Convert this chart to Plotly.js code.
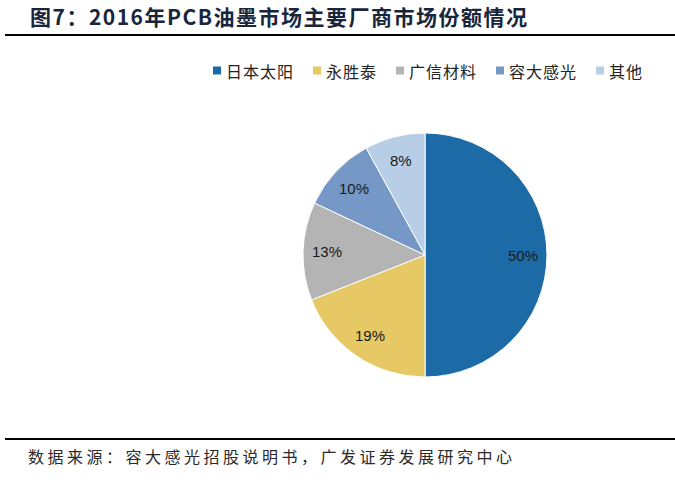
<!DOCTYPE html>
<html>
<head>
<meta charset="utf-8">
<script src="https://cdn.plot.ly/plotly-3.0.1.min.js"></script>
<style>
html,body{margin:0;padding:0;background:#fff;}
#chart{width:675px;height:487px;}
</style>
</head>
<body>
<div id="chart"></div>
<script>
const labels = ['日本太阳', '永胜泰', '广信材料', '容大感光', '其他'];
const shares = [50, 19, 13, 10, 8];
const colors = ['#1D6BA6', '#E6C864', '#B4B4B4', '#7598C7', '#B8CDE6'];
const titleText = '图7：2016年PCB油墨市场主要厂商市场份额情况';
const sourceText = '数据来源：容大感光招股说明书，广发证券发展研究中心';

const W = 675, H = 487;
const cx = 425, cy = 255, r = 122;
const px = x => x / W;
const py = y => (H - y) / H;

const trace = {
  type: 'pie',
  labels: labels,
  values: shares,
  sort: false,
  direction: 'clockwise',
  rotation: 0,
  marker: {colors: colors, line: {color: '#ffffff', width: 1}},
  textinfo: 'none',
  hoverinfo: 'label+percent',
  showlegend: false,
  domain: {x: [px(cx - r), px(cx + r)], y: [py(cy + r), py(cy - r)]}
};

const shapes = [
  {type: 'line', xref: 'paper', yref: 'paper', x0: px(5), x1: 1, y0: py(35), y1: py(35), line: {color: '#000', width: 2}},
  {type: 'line', xref: 'paper', yref: 'paper', x0: px(5), x1: 1, y0: py(439), y1: py(439), line: {color: '#000', width: 2}}
];
const annotations = [
  {text: '<span style="letter-spacing:3.5px">' + sourceText + '</span>', xref: 'paper', yref: 'paper',
   x: px(26), xanchor: 'left', y: py(456), yanchor: 'middle',
   showarrow: false, font: {family: 'Noto Sans CJK SC, sans-serif', size: 16, color: '#2a2a2a'}}
];

// legend (square + label), laid out left to right
const legCharW = 17, legY = 70.5;
let lx = 213;
labels.forEach((lab, i) => {
  shapes.push({type: 'rect', xref: 'paper', yref: 'paper', x0: px(lx), x1: px(lx + 8), y0: py(legY + 4), y1: py(legY - 4),
    fillcolor: colors[i], line: {width: 0}});
  annotations.push({text: '<span style="letter-spacing:1px">' + lab + '</span>', xref: 'paper', yref: 'paper',
    x: px(lx + 11), xanchor: 'left', y: py(legY), yanchor: 'middle', showarrow: false,
    font: {family: 'Noto Sans CJK SC, sans-serif', size: 16, color: '#222'}});
  lx += 13 + lab.length * legCharW + 19;
});

// percentage labels placed along each slice bisector
const total = shares.reduce((a, b) => a + b, 0);
let cum = 0;
shares.forEach(v => {
  const mid = (cum + v / 2) / total * 2 * Math.PI;
  cum += v;
  const lr = 0.8 * r;
  annotations.push({text: v + '%', xref: 'paper', yref: 'paper',
    x: px(cx + lr * Math.sin(mid)), y: py(cy - lr * Math.cos(mid)), xanchor: 'center', yanchor: 'middle',
    showarrow: false, font: {family: 'Liberation Sans, Arial, sans-serif', size: 15, color: '#1a1a1a'}});
});

const layout = {
  width: W, height: H,
  margin: {l: 0, r: 0, t: 0, b: 0},
  paper_bgcolor: '#ffffff',
  plot_bgcolor: '#ffffff',
  showlegend: false,
  title: {
    text: '<b><span style="letter-spacing:1.5px">' + titleText + '</span></b>',
    x: px(30), xanchor: 'left',
    y: py(17.5), yanchor: 'middle', yref: 'container',
    font: {family: 'Noto Sans CJK SC, sans-serif', size: 21, color: '#18263d'}
  },
  shapes: shapes,
  annotations: annotations
};

Plotly.newPlot('chart', [trace], layout, {displayModeBar: false, staticPlot: true});
</script>
</body>
</html>
